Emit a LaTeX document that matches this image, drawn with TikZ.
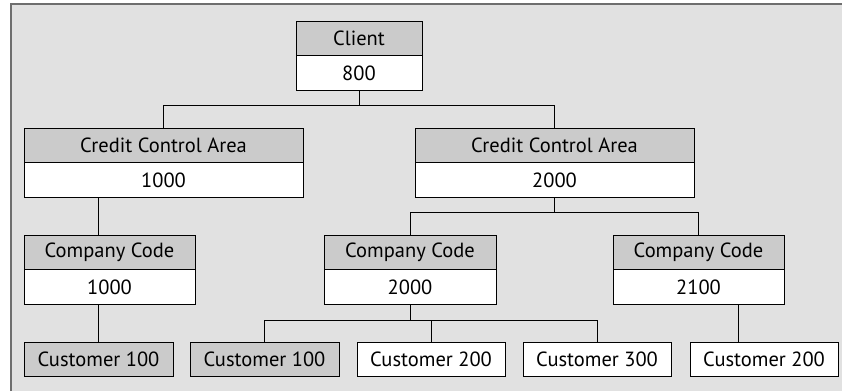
\documentclass[tikz,border=0pt]{standalone}
\usepackage{fontspec}
\setmainfont{PT Sans}
\usetikzlibrary{positioning}
\definecolor{panel}{HTML}{E1E1E1}
\definecolor{headfill}{HTML}{CBCBCB}
\definecolor{frameline}{HTML}{6E6E6E}
\tikzset{
  box/.style={draw=black, line width=1pt, inner sep=0pt, minimum height=34.5pt,
              font=\fontsize{20.5}{22}\selectfont},
  hdr/.style={box, fill=headfill},
  val/.style={box, fill=white},
  link/.style={draw=black, line width=1pt},
}
\begin{document}
\begin{tikzpicture}[x=1pt,y=-1pt]
\useasboundingbox (0,0) rectangle (842,391);
% panel with frame on left and top
\fill[panel] (11,4) rectangle (842,391);
\draw[frameline, line width=1.2pt] (11,391) -- (11,4) -- (842,4);

% level 1: client
\node[hdr, minimum width=126pt] (clh) at (359,38.5) {Client};
\node[val, minimum width=126pt] (clv) at (359,73) {800};

% level 2: credit control areas
\node[hdr, minimum width=279pt] (c1h) at (163.5,145.5) {Credit Control Area};
\node[val, minimum width=279pt] (c1v) at (163.5,180) {1000};
\node[hdr, minimum width=279pt] (c2h) at (554.5,145.5) {Credit Control Area};
\node[val, minimum width=279pt] (c2v) at (554.5,180) {2000};

% level 3: company codes
\node[hdr, minimum width=171pt] (k1h) at (109.5,252.5) {Company Code};
\node[val, minimum width=171pt] (k1v) at (109.5,287) {1000};
\node[hdr, minimum width=172pt] (k2h) at (410,252.5) {Company Code};
\node[val, minimum width=172pt] (k2v) at (410,287) {2000};
\node[hdr, minimum width=171pt] (k3h) at (698.5,252.5) {Company Code};
\node[val, minimum width=171pt] (k3v) at (698.5,287) {2100};

% level 4: customers
\node[hdr, minimum width=149pt] (u1) at (98.5,359.5) {Customer 100};
\node[hdr, minimum width=149pt] (u2) at (264.5,359.5) {Customer 100};
\node[val, minimum width=148pt] (u3) at (431,359.5) {Customer 200};
\node[val, minimum width=148pt] (u4) at (597,359.5) {Customer 300};
\node[val, minimum width=148pt] (u5) at (764,359.5) {Customer 200};

% drop lines that sit off the box centres
\coordinate (drop1) at (98,0);
\coordinate (drop2) at (738,0);

% connectors
\draw[link] (clv.south) -- ++(0,15) coordinate (j1) -| (c1h.north);
\draw[link] (j1) -| (c2h.north);
\draw[link] (c1v.south -| drop1) -- (k1h.north -| drop1);
\draw[link] (c2v.south) -- ++(0,15) coordinate (j2) -| (k2h.north);
\draw[link] (j2) -| (k3h.north);
\draw[link] (k1v.south -| drop1) -- (u1.north -| drop1);
\draw[link] (k2v.south) -- ++(0,16) coordinate (j3) -| (u2.north);
\draw[link] (j3) -| (u4.north);
\draw[link] (j3 -| u3.north) -- (u3.north);
\draw[link] (k3v.south -| drop2) -- (u5.north -| drop2);
\end{tikzpicture}
\end{document}
